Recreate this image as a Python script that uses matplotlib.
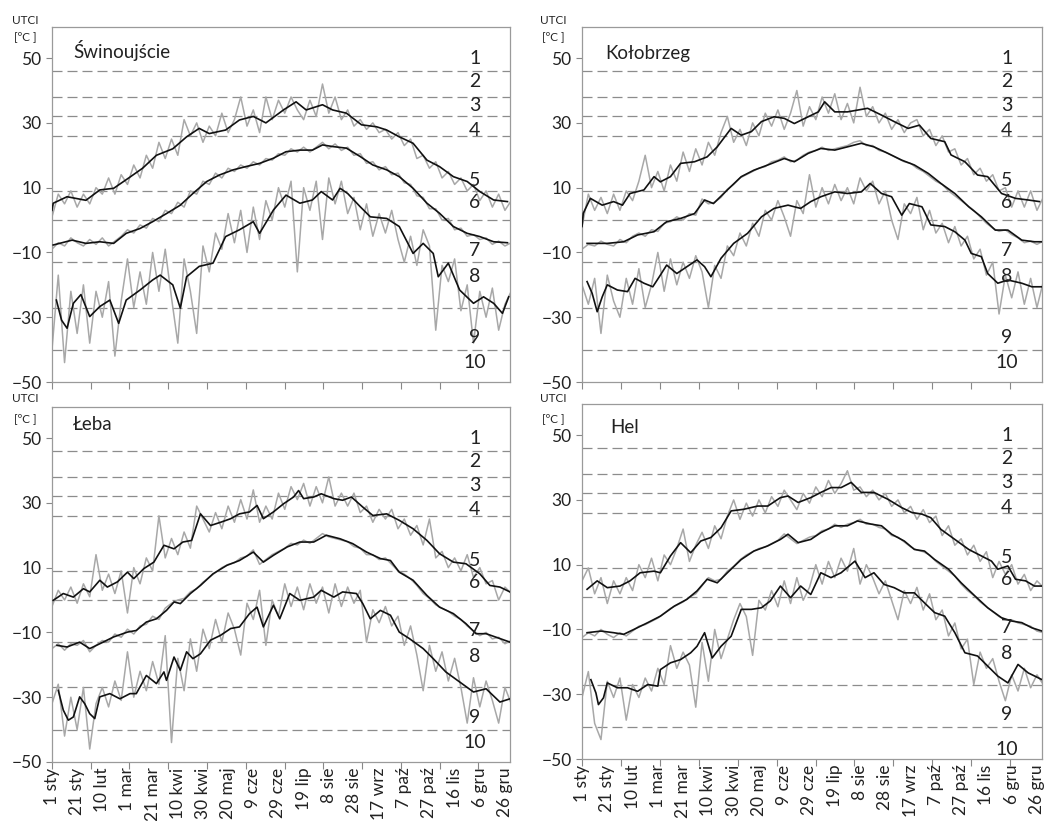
import numpy as np
import matplotlib
matplotlib.use("Agg")
import matplotlib.pyplot as plt

plt.rcParams['font.family'] = ['Lato', 'DejaVu Sans']

# x axis: day of year
label_days = list(range(0, 361, 20))
label_txt = ["1 sty", "21 sty", "10 lut", "1 mar", "21 mar", "10 kwi", "30 kwi",
             "20 maj", "9 cze", "29 cze", "19 lip", "8 sie", "28 sie", "17 wrz",
             "7 paź", "27 paź", "16 lis", "6 gru", "26 gru"]

# UTCI stress class limits and class numbers
limits = [46, 38, 32, 26, 9, 0, -13, -27, -40]
class_no = ["1", "2", "3", "4", "5", "6", "7", "8", "9", "10"]
class_y = [50, 42.7, 35.3, 27.8, 12.3, 5.3, -9.5, -17.5, -36.2, -44]

GREY_STEP = 5  # grey (daily) series read every 5 days

####
# Świnoujście
####
swi_hi = [(0, 3), (1, 5.2), (12, 7.2), (27, 6.1), (38, 9.3), (49, 9.8), (61, 13), (72, 16), (83, 20),
          (96, 22), (107, 25.7), (117, 28.3), (125, 26.7), (138, 27.8), (149, 30.9), (160, 32),
          (170, 30), (184, 34), (194, 36.5), (202, 34), (215, 35.6), (223, 34), (234, 33),
          (246, 29.4), (258, 28.8), (266, 27.8), (276, 25.7), (287, 23.7), (298, 18.5),
          (308, 16.5), (319, 13.4), (330, 11.9), (340, 8.8), (351, 6.2), (362, 5.7)]
swi_mid = [(1, -7.7), (16, -6.2), (27, -7.2), (38, -6.7), (49, -7.2), (59, -4.1), (70, -2.6),
           (80, -0.5), (91, 2), (102, 4.6), (112, 8.2), (123, 11.9), (133, 13.9), (144, 15.5),
           (154, 16.5), (165, 17.5), (176, 19.1), (186, 21.1), (197, 21.6), (207, 21.6),
           (215, 23.2), (223, 22.7), (234, 22.2), (245, 19.6), (255, 17), (266, 15.5),
           (276, 13.4), (287, 9.8), (298, 5.2), (308, 2.1), (319, -2), (330, -4.1),
           (340, -5.1), (351, -6.7), (362, -7)]
swi_lo = [(3.5, -24.7), (7.6, -30.9), (12, -33.4), (17, -25.7), (23, -23), (30, -29.8),
          (38, -26.7), (46, -24.7), (53, -31.9), (59, -24.7), (70, -21.6), (80, -18.5),
          (86, -17), (96, -20), (102, -27.2), (107, -17.5), (117, -14.3), (128, -13.3),
          (138, -5.1), (149, -3), (160, -0.5), (165, -4.1), (176, 3.1), (186, 7.7), (197, 5.2),
          (207, 6.2), (214, 8.8), (223, 6.2), (229, 9.8), (235, 8.2), (245, 4.1), (253, 1),
          (266, 0.5), (276, -2), (287, -10.3), (295, -7.2), (303, -10.3), (307, -17.5),
          (315, -13.3), (324, -21.6), (335, -25.7), (343, -23.7), (351, -25.7), (358, -28.8),
          (363, -23.7)]
swi_hi_g = [1, 8, 5, 9, 4, 8, 5, 10, 8, 13, 8, 14, 11, 17, 13, 20, 16, 24, 19, 25,
            20, 31, 26, 30, 24, 29, 26, 33, 27, 31, 38, 29, 34, 27, 38, 31, 37, 33, 38, 34,
            31, 37, 32, 42, 33, 38, 31, 34, 29, 31, 28, 30, 27, 28, 25, 27, 23, 25, 19, 20,
            16, 18, 13, 15, 11, 13, 9, 11, 6, 9, 4, 8, 3, 6]
swi_mid_g = [-9, -7, -8, -5.5, -7, -8, -6, -7.5, -5.5, -8, -6.5, -5, -3, -4, -1.5, -2.5, 0.5,
             -0.5, 3, 2, 5.5, 4, 9, 8, 12, 11, 14.5, 13, 16, 15, 17, 16, 18, 17, 19, 18.5,
             20.5, 20, 22, 21, 22.5, 21, 22.5, 24, 22, 23.5, 21.5, 22.5, 20, 20.5, 17.5, 18,
             15.5, 16.5, 14, 14.5, 11.5, 11, 7.5, 7, 3.5, 3.5, 0, 0.5, -3, -2.5, -5, -4.5,
             -6, -5.5, -7.5, -6.5, -8, -7]
swi_lo_g = [-40, -17, -44, -22, -35, -20, -38, -22, -30, -19, -42, -25, -12, -27, -16, -26,
            -10, -22, -9, -24, -38, -12, -22, -35, -8, -16, -4, -9, 2, -7, 3, -10, 4, -6, 6,
            0, 10, 4, 12, -16, 10, 3, 12, -6, 13, 5, 12, 2, 7, -3, 5, -5, 2, -4, 3, -6, -13,
            -5, -14, -3, -8, -34, -14, -19, -12, -28, -20, -38, -22, -30, -21, -34, -26, -22]

####
# Kołobrzeg
####
kol_hi = [(0, -2), (1, 2.1), (6.6, 6.7), (16, 4.6), (25, 5.7), (32, 4.6), (38, 8.2), (49, 9.3),
          (57, 13.4), (62, 11.8), (70, 13.4), (78, 17.5), (89, 18), (99, 19.5), (107, 22.6),
          (118, 28.3), (126, 26.2), (134, 27.3), (142, 30.4), (152, 31.9), (160, 31.4),
          (168, 29.8), (179, 31.9), (187, 33.4), (192, 36.5), (200, 33.4), (210, 33.4),
          (226, 34.5), (237, 32.4), (247, 30.4), (258, 28.3), (267, 29.3), (276, 25.2),
          (287, 24.2), (292, 20.1), (303, 18), (313, 13.9), (321, 13.4), (332, 8.2),
          (343, 6.7), (353, 6.2), (362, 5.7)]
kol_mid = [(4, -7.2), (20, -7.2), (33, -6.7), (44, -4.6), (57, -3.6), (67, -0.5), (78, 0.5),
           (89, 2), (97, 6.2), (104, 5.1), (115, 9.3), (126, 13.4), (136, 15.4), (147, 17),
           (160, 19), (168, 18), (179, 20.6), (189, 22.1), (200, 21.6), (210, 22.6),
           (221, 23.7), (231, 22.6), (242, 20.6), (253, 18.5), (263, 17), (274, 14.4),
           (284, 11.3), (295, 8.2), (306, 4.1), (316, 1), (327, -3.1), (337, -3.1),
           (348, -6.2), (358, -6.7), (364, -6.7)]
kol_lo = [(4, -19), (8, -22.6), (12, -28.3), (16, -23.7), (20, -20), (28, -21.6), (36, -22.1),
          (42, -18), (49, -19.5), (56, -20.6), (62, -17), (67, -13.9), (75, -16.5),
          (83, -14.4), (91, -12.3), (97, -14.4), (102, -17.5), (110, -11.8), (120, -7.2),
          (131, -4.1), (142, 1), (152, 3.6), (163, 4.6), (173, 3.6), (181, 5.7), (189, 7.2),
          (200, 8.7), (210, 8.2), (221, 8.7), (228, 11.3), (237, 8.2), (245, 7.2), (253, 1.5),
          (259, 5.1), (269, 4.1), (276, -1.5), (287, -2), (295, -3.6), (303, -6.2),
          (308, -10.3), (316, -11.3), (321, -16.5), (329, -19.5), (337, -18.5), (348, -19.5),
          (356, -20.6), (364, -20.6)]
kol_hi_g = [-2, 8, 3, 7, 2, 8, 3, 9, 6, 12, 20, 10, 15, 9, 17, 12, 21, 15, 22, 17, 24, 20,
            27, 32, 24, 28, 23, 30, 26, 33, 29, 34, 28, 33, 40, 29, 35, 31, 38, 33, 39, 31, 36,
            30, 41, 32, 35, 30, 33, 28, 31, 27, 30, 31, 26, 28, 23, 26, 21, 22, 17, 19, 14, 16,
            12, 14, 9, 10, 4, 9, 4, 9, 3, 7]
kol_mid_g = [-9, -7.5, -8, -6.5, -7.5, -8, -6, -7, -5, -4, -5, -3, -3.5, -1, -0.5, 1, 0, 2,
             1.5, 6.5, 5, 5.5, 7, 9.5, 11, 13, 14, 15, 16, 16.5, 18, 18.5, 19.5, 18, 18.5, 20,
             21, 21.5, 22.5, 21.5, 22, 22.5, 23, 24, 24.5, 23, 23, 21.5, 21, 20, 19, 18, 17.5,
             16, 15, 13.5, 12, 11, 9, 7.5, 6, 4.5, 3, 1, -1, -2.5, -3.5, -3, -4.5, -5.5, -7,
             -6.5, -7.5, -6.5]
kol_lo_g = [-20, -26, -18, -35, -17, -25, -30, -18, -26, -15, -27, -20, -10, -22, -12, -20,
            -13, -18, -11, -16, -27, -14, -18, -8, -11, -4, -8, -1, -5, 3, 0, 6, 1, -5, 6, 2,
            14, 4, 10, 5, 11, 6, 10, 5, 13, 9, 12, 5, 9, 0, -6, 5, 2, 7, -3, 3, -4, -1, -7, -2,
            -8, -5, -12, -9, -17, -13, -29, -17, -24, -16, -26, -18, -27, -19]

####
# Łeba
####
leb_hi = [(1, -0.1), (9, 2), (17, 0.9), (25, 3.5), (30, 2.5), (38, 6.1), (44, 4), (52, 5.6),
          (60, 8.6), (65, 6.6), (73, 9.7), (81, 11.7), (89, 16.9), (97, 15.8), (104, 17.9),
          (111, 18.4), (118, 26.6), (126, 23), (134, 24), (142, 25.1), (149, 26.6),
          (157, 27.2), (163, 29.2), (168, 25.1), (176, 27.2), (184, 29.7), (192, 31.8),
          (196, 33.8), (200, 31.3), (208, 31.8), (214, 32.8), (224, 31.3), (231, 30.8),
          (238, 31.8), (247, 28.7), (255, 26.1), (266, 26.6), (276, 24.6), (287, 22),
          (298, 18.4), (308, 14.3), (319, 11.7), (329, 11.2), (340, 8.1), (348, 4.5),
          (356, 4), (364, 2.5)]
leb_mid = [(4, -14), (12, -14.5), (22, -13), (30, -15), (38, -13.5), (49, -11.4), (60, -9.9),
           (67, -9.4), (75, -6.8), (83, -5.8), (91, -3.2), (97, -0.6), (102, -1.1), (110, 2),
           (118, 4.5), (128, 8.1), (139, 10.7), (149, 12.2), (160, 14.8), (168, 11.7),
           (176, 13.8), (187, 16.4), (197, 17.9), (208, 17.9), (218, 20), (229, 18.9),
           (239, 17.4), (250, 14.8), (261, 12.8), (269, 12.2), (276, 8.6), (287, 6.1),
           (298, 1.4), (308, -2.2), (319, -4.2), (329, -7.3), (337, -10.4), (345, -10.4),
           (356, -11.9), (364, -13)]
leb_lo = [(5, -27.9), (9, -34), (13, -37.1), (17, -36.1), (22, -29.9), (26, -32), (30, -35.1),
          (34, -36.6), (38, -29.9), (46, -28.9), (54, -30.5), (62, -28.9), (67, -28.9),
          (75, -23.3), (83, -25.8), (89, -22.2), (91, -24.8), (97, -17.6), (102, -21.7),
          (107, -16), (112, -18.1), (118, -16.6), (126, -12.4), (134, -10.9), (142, -8.8),
          (149, -8.3), (157, -4.2), (163, -2.2), (168, -8.3), (176, -1.6), (181, -5.8),
          (189, 2), (197, -0.1), (208, 0.9), (214, 3), (224, 0.9), (231, 2.5), (242, 2),
          (247, -1.1), (253, -5.8), (261, -3.2), (269, -4.7), (276, -9.9), (284, -11.9),
          (295, -15), (303, -18.1), (313, -22.2), (324, -25.3), (335, -28.4), (345, -27.4),
          (356, -31.5), (364, -30.5)]
leb_hi_g = [-2, 3, 0, 4, -1, 5, 1, 14, 3, 8, 2, 9, -4, 10, 5, 13, 9, 26, 13, 19, 14, 21, 16,
            29, 25, 21, 27, 22, 29, 24, 31, 25, 34, 24, 29, 25, 33, 28, 35, 31, 36, 29, 35, 30,
            38, 29, 33, 29, 33, 27, 29, 24, 28, 25, 28, 22, 25, 20, 23, 17, 25, 13, 15, 10, 13,
            9, 14, 7, 10, 5, 6, 0, 4, 2]
leb_mid_g = [-15, -13.5, -15.5, -13.5, -14, -12.5, -16, -14, -12.5, -13, -10.5, -11.5, -9,
             -10.5, -8, -7.5, -5, -6, -2.5, -1, 0, 0.5, 2.5, 3.5, 5.5, 7, 8.5, 10, 11, 11.5,
             13, 13.5, 15.5, 11, 12.5, 14, 15, 16, 17.5, 17, 18.5, 17.5, 19, 20.5, 19.5, 19,
             18.5, 18, 16.5, 16, 14, 14, 12.5, 13, 11, 9, 8, 6.5, 4.5, 2, 0.5, -1.5, -2.5,
             -3.5, -5, -6, -8, -9.5, -11, -10, -12, -11.5, -13.5, -12.5]
leb_lo_g = [-32, -26, -42, -30, -40, -27, -46, -32, -27, -33, -25, -31, -16, -30, -22, -28,
            -19, -26, -11, -44, -18, -28, -12, -22, -9, -15, -6, -13, -4, -9, -17, -1, -6, 3,
            -14, 0, -5, 5, -2, 4, -3, 5, -1, 4, -4, 5, -2, 4, -1, 3, -13, -3, -7, -2, -8, -5,
            -14, -8, -17, -28, -14, -22, -16, -25, -18, -27, -38, -24, -33, -25, -31, -38,
            -27, -32]

####
# Hel
####
hel_hi = [(4, 2.4), (12, 5), (20, 2.9), (30, 3.4), (38, 5), (46, 7.5), (57, 8), (62, 7.5),
          (70, 12.7), (78, 16.8), (86, 13.7), (94, 17.3), (102, 18.4), (110, 21.4),
          (118, 26.6), (128, 27.1), (139, 28.1), (147, 28.1), (157, 30.7), (163, 31.2),
          (171, 29.2), (181, 30.7), (189, 32.3), (197, 33.8), (205, 33.8), (213, 35.4),
          (221, 32.3), (231, 32.3), (242, 30.2), (253, 27.6), (261, 26.1), (269, 25.6),
          (276, 24.5), (284, 20.9), (295, 17.8), (306, 14.7), (316, 12.7), (324, 11.1),
          (329, 8.6), (337, 9.6), (343, 5.5), (351, 5), (358, 3.4), (364, 3.4)]
hel_mid = [(4, -11), (15, -10.5), (25, -11), (33, -11.5), (41, -10), (52, -7.9), (62, -5.9),
           (73, -2.8), (83, -0.7), (91, 1.9), (99, 5.5), (107, 4.4), (115, 7.5), (126, 11.6),
           (136, 14.2), (147, 15.8), (157, 17.8), (163, 19.4), (171, 16.8), (181, 17.8),
           (189, 19.9), (200, 22), (210, 22), (218, 23.5), (229, 22.5), (237, 22),
           (245, 19.4), (255, 17.3), (263, 14.7), (271, 14.2), (279, 11.6), (290, 8.6),
           (300, 4.4), (311, 0.3), (321, -3.3), (332, -6.4), (340, -7.4), (348, -7.9),
           (356, -9.5), (364, -10.5)]
hel_lo = [(7, -25.5), (11, -29.6), (13, -33.2), (17, -31.1), (20, -26.5), (28, -28),
          (36, -28), (44, -29.1), (52, -27), (60, -27.5), (62, -22.4), (70, -20.3),
          (78, -19.3), (86, -17.2), (91, -15.2), (97, -11), (103, -18.8), (110, -15.2),
          (118, -12.1), (126, -3.8), (134, -3.8), (142, -3.3), (149, -1.2), (157, 3.4),
          (165, -0.2), (173, 3.4), (181, 0.8), (189, 7.5), (197, 6), (205, 7.5), (216, 11.1),
          (224, 6), (231, 7.5), (239, 3.9), (247, 2.9), (255, 1.3), (263, 1.3), (271, -1.8),
          (279, -4.8), (287, -5.9), (295, -11), (303, -17.2), (313, -18.2), (321, -21.3),
          (329, -24.4), (337, -26.5), (345, -20.8), (353, -23.4), (364, -25.5)]
hel_hi_g = [5, 9, 1, 6, -2, 5, 1, 6, 2, 10, 6, 12, 5, 13, 10, 15, 21, 11, 16, 20, 15, 22, 18,
            25, 30, 24, 29, 25, 30, 26, 31, 28, 33, 30, 27, 32, 29, 34, 31, 36, 32, 35, 39, 33,
            34, 31, 33, 30, 32, 28, 30, 26, 28, 24, 27, 23, 25, 19, 22, 16, 18, 13, 16, 11, 14,
            6, 11, 7, 10, 4, 7, 2, 5, 3]
hel_mid_g = [-12.5, -11, -12, -10, -11.5, -12.5, -11, -12, -10.5, -9, -8.5, -7.5, -6.5, -5,
             -3.5, -2.5, -1.5, 0, 1, 3.5, 6, 5, 5.5, 8, 9.5, 11.5, 13, 14, 15, 15.5, 16.5,
             17.5, 19.5, 18, 16.5, 17.5, 18.5, 19, 20.5, 21, 22.5, 21.5, 22.5, 23, 24, 22.5,
             22.5, 21.5, 21, 19, 18.5, 17, 15.5, 14.5, 14, 13, 11, 9.5, 8, 6.5, 4, 2, 0.5,
             -1.5, -3, -4.5, -6, -7, -7, -8, -8.5, -9, -10.5, -11]
hel_lo_g = [-31, -23, -39, -44, -26, -31, -25, -38, -27, -31, -25, -29, -22, -27, -15, -22,
            -17, -21, -34, -14, -26, -10, -19, -13, -7, -2, -6, -18, -1, -4, 2, -3, 5, -2, 6,
            -1, 3, 10, 4, 11, 6, 12, 8, 15, 4, 10, 6, 1, 5, -1, -7, 2, -2, 3, -4, 1, -7, -4,
            -12, -8, -16, -13, -27, -17, -22, -19, -26, -32, -24, -29, -22, -28, -24, -27]

stations = ["Świnoujście", "Kołobrzeg", "Łeba", "Hel"]

fig = plt.figure(figsize=(10.5, 8.21), dpi=100)
ax_pos = [[0.0495, 0.5347, 0.4362, 0.4324],
          [0.5543, 0.5347, 0.4381, 0.4324],
          [0.0495, 0.0719, 0.4362, 0.4324],
          [0.5543, 0.0755, 0.4381, 0.4324]]
title_pos = [(0.046, 0.935), (0.05, 0.925), (0.046, 0.95), (0.062, 0.935)]
unit_pos = [(0.024, 0.975, 0.955), (0.527, 0.975, 0.955),
            (0.024, 0.515, 0.49), (0.527, 0.515, 0.49)]

series = [(swi_hi, swi_mid, swi_lo, swi_hi_g, swi_mid_g, swi_lo_g),
          (kol_hi, kol_mid, kol_lo, kol_hi_g, kol_mid_g, kol_lo_g),
          (leb_hi, leb_mid, leb_lo, leb_hi_g, leb_mid_g, leb_lo_g),
          (hel_hi, hel_mid, hel_lo, hel_hi_g, hel_mid_g, hel_lo_g)]

for i in range(4):
	ax = fig.add_axes(ax_pos[i])
	hi, mid, lo, hi_g, mid_g, lo_g = series[i]

	for lim in limits:
		ax.axhline(lim, color="#8c8c8c", lw=0.9, ls=(0, (8, 4)), zorder=1)

	for g in (hi_g, mid_g, lo_g):
		d = np.arange(len(g)) * GREY_STEP
		ax.plot(d, g, color="#a8a8a8", lw=1.1, zorder=2)
	for s in (hi, mid, lo):
		d = [p[0] for p in s]
		v = [p[1] for p in s]
		ax.plot(d, v, color="#111111", lw=1.2, zorder=3)

	ys = list(class_y)
	if i == 3:
		ys[9] = -47
	for t, y in zip(class_no, ys):
		ax.text(336, y, t, ha="center", va="center", fontsize=14, color="#222222", zorder=4)

	ax.text(title_pos[i][0], title_pos[i][1], stations[i], transform=ax.transAxes,
	        fontsize=13.5, color="#222222", va="center", ha="left")

	ax.set_xlim(0, 364)
	ax.set_ylim(-50, 59.6)
	ax.set_yticks([-50, -30, -10, 10, 30, 50])
	ax.tick_params(axis="y", labelsize=12.5, length=4, color="#888888", labelcolor="#222222")

	ax.xaxis.remove_overlapping_locs = False
	ax.set_xticks(np.arange(12) * 30.8)
	ax.set_xticklabels([])
	ax.tick_params(axis="x", which="major", length=5, color="#888888")
	if i >= 2:
		ax.set_xticks(label_days, minor=True)
		ax.set_xticklabels(label_txt, minor=True, rotation=90, fontsize=12.5, color="#222222")
		ax.tick_params(axis="x", which="minor", length=0, pad=4)
	for sp in ax.spines.values():
		sp.set_color("#9a9a9a")
		sp.set_linewidth(0.9)

	ux, uy1, uy2 = unit_pos[i]
	fig.text(ux, uy1, "UTCI", fontsize=8.5, ha="center", va="center", color="#222222")
	fig.text(ux, uy2, "[ºC ]", fontsize=8.5, ha="center", va="center", color="#222222")

plt.savefig("out.png", dpi=100)
